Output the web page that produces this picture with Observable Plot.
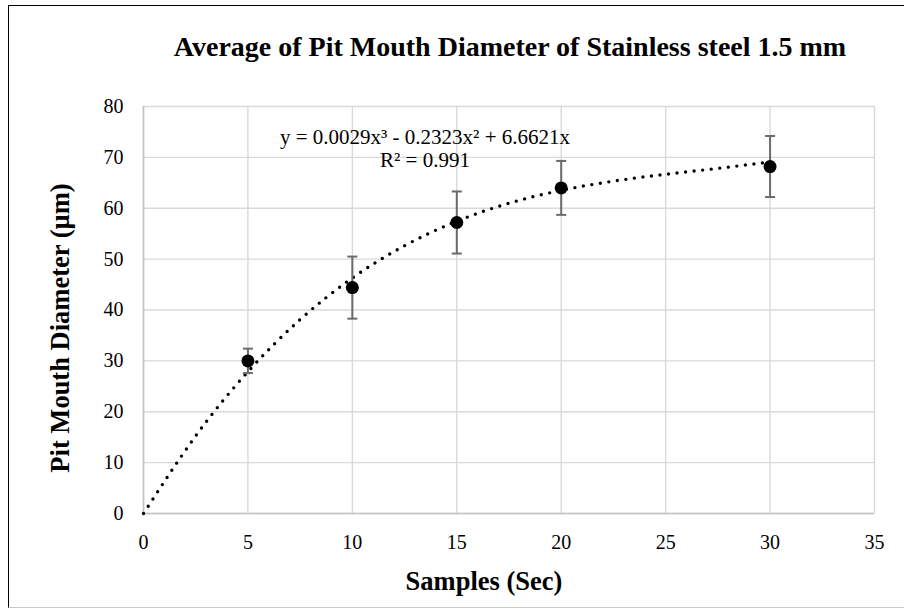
<!DOCTYPE html>
<html>
<head>
<meta charset="utf-8">
<script src="https://cdn.jsdelivr.net/npm/d3@7"></script>
<script src="https://cdn.jsdelivr.net/npm/@observablehq/plot@0.6"></script>
<style>
  html, body { margin: 0; padding: 0; background: #fff; }
  #wrap { position: relative; width: 904px; height: 610px; overflow: hidden; background: #fff; }
  #frame { position: absolute; left: 8px; top: 5px; width: 910px; height: 603px;
           border-left: 1.5px solid #000; border-top: 1.5px solid #000; border-bottom: 1px solid #c8c8c8; box-sizing: border-box; }
  #chart { position: absolute; left: 0; top: 0; }
  #title { position: absolute; left: 0; width: 1020px; top: 31px; text-align: center;
           font: bold 28px "Liberation Serif", "Times New Roman", serif; color: #000; line-height: 32px; }
</style>
</head>
<body>
<div id="wrap">
  <div id="frame"></div>
  <div id="chart"></div>
  <div id="title">Average of Pit Mouth Diameter of Stainless steel 1.5 mm</div>
</div>
<script>
// ---- data ----
const samplesSec = [5, 10, 15, 20, 30];
const meanDiameter = [30.0, 44.4, 57.2, 64.0, 68.2];
const errorAmount = [2.4, 6.1, 6.1, 5.3, 6.0];

// dotted polynomial trendline
const trendX = [0, 2.5, 5, 7.5, 10, 12.5, 15, 17.5, 20, 22.5, 25, 27.5, 30];
const trendY = [0, 15.25, 27.87, 38.12, 46.29, 52.64, 57.45, 60.99, 63.52, 65.33, 66.68, 67.84, 69.09];

const xTicks = [0, 5, 10, 15, 20, 25, 30, 35];
const yTicks = [0, 10, 20, 30, 40, 50, 60, 70, 80];

const equationText = ["y = 0.0029x³ - 0.2323x² + 6.6621x", "R² = 0.991"];
const xTitle = "Samples (Sec)";
const yTitle = "Pit Mouth Diameter (µm)";

// ---- build tables ----
const points = samplesSec.map((x, i) => ({x, y: meanDiameter[i], lo: meanDiameter[i] - errorAmount[i], hi: meanDiameter[i] + errorAmount[i]}));
const trend = trendX.map((x, i) => ({x, y: trendY[i]}));

const capSymbol = {
  draw(ctx, size) {
    const r = Math.sqrt(size / Math.PI);
    ctx.moveTo(-r, 0);
    ctx.lineTo(r, 0);
  }
};

const serif = '"Liberation Serif", "Times New Roman", serif';

const plot = Plot.plot({
  width: 904,
  height: 610,
  marginLeft: 143,
  marginRight: 30,
  marginTop: 106,
  marginBottom: 97,
  style: {fontFamily: serif, fontSize: "20px", color: "#000", background: "transparent", overflow: "visible"},
  x: {domain: [0, 35], ticks: xTicks},
  y: {domain: [0, 80], ticks: yTicks},
  marks: [
    Plot.gridX(xTicks, {stroke: "#d9d9d9", strokeOpacity: 1, strokeWidth: 1.4}),
    Plot.gridY(yTicks, {stroke: "#d9d9d9", strokeOpacity: 1, strokeWidth: 1.4}),
    Plot.ruleX([0], {stroke: "#c4c4c4", strokeWidth: 1.6}),
    Plot.ruleY([0], {stroke: "#c4c4c4", strokeWidth: 1.6}),
    Plot.axisX(xTicks, {tickSize: 0, tickPadding: 21, label: null, fontSize: 20}),
    Plot.axisY(yTicks, {tickSize: 0, tickPadding: 20, label: null, fontSize: 20}),
    Plot.line(trend, {x: "x", y: "y", curve: "natural", stroke: "#000", strokeWidth: 3.4,
      strokeDasharray: "0 8.6", strokeLinecap: "round"}),
    Plot.ruleX(points, {x: "x", y1: "lo", y2: "hi", stroke: "#6a6a6a", strokeWidth: 2}),
    Plot.dot(points, {x: "x", y: "hi", symbol: capSymbol, r: 5, stroke: "#6a6a6a", strokeWidth: 2, fill: "none"}),
    Plot.dot(points, {x: "x", y: "lo", symbol: capSymbol, r: 5, stroke: "#6a6a6a", strokeWidth: 2, fill: "none"}),
    Plot.dot(points, {x: "x", y: "y", r: 6.5, fill: "#000", stroke: "none"}),
    Plot.text([equationText.join("\n")], {frameAnchor: "top", dx: -84, dy: 21, lineAnchor: "top",
      lineHeight: 1.1, fontSize: 21, fill: "#000"}),
    Plot.text([xTitle], {frameAnchor: "bottom", textAnchor: "middle", dx: -25, dy: 76, fontSize: 26.5, fontWeight: "bold", fill: "#000"}),
    Plot.text([yTitle], {frameAnchor: "left", textAnchor: "middle", rotate: -90, dx: -83, dy: 18, fontSize: 26.5, fontWeight: "bold", fill: "#000"})
  ]
});
document.getElementById("chart").append(plot);
</script>
</body>
</html>
